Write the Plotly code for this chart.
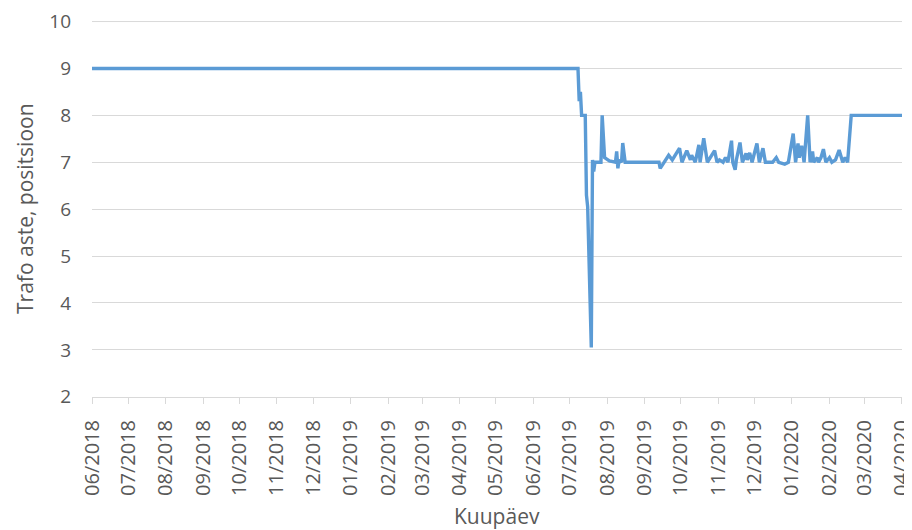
import plotly.graph_objects as go

dates = [
    "2018-06-01", "2019-07-08", "2019-07-09", "2019-07-10", "2019-07-11", "2019-07-14",
    "2019-07-15", "2019-07-16", "2019-07-19", "2019-07-20", "2019-07-21", "2019-07-22",
    "2019-07-27", "2019-07-28", "2019-07-30", "2019-08-03", "2019-08-08", "2019-08-09",
    "2019-08-10", "2019-08-11", "2019-08-13", "2019-08-14", "2019-08-16", "2019-09-13",
    "2019-09-14", "2019-09-17", "2019-09-21", "2019-09-24", "2019-09-30", "2019-10-02",
    "2019-10-06", "2019-10-09", "2019-10-10", "2019-10-13", "2019-10-16", "2019-10-17",
    "2019-10-20", "2019-10-23", "2019-10-29", "2019-10-31", "2019-11-02", "2019-11-05",
    "2019-11-07", "2019-11-09", "2019-11-12", "2019-11-13", "2019-11-15", "2019-11-16",
    "2019-11-19", "2019-11-21", "2019-11-24", "2019-11-25", "2019-11-27", "2019-11-29",
    "2019-12-03", "2019-12-05", "2019-12-08", "2019-12-10", "2019-12-16", "2019-12-19",
    "2019-12-21", "2019-12-26", "2019-12-29", "2020-01-02", "2020-01-04", "2020-01-06",
    "2020-01-07", "2020-01-09", "2020-01-11", "2020-01-14", "2020-01-16", "2020-01-18",
    "2020-01-19", "2020-01-22", "2020-01-23", "2020-01-25", "2020-01-27", "2020-01-29",
    "2020-02-01", "2020-02-03", "2020-02-06", "2020-02-09", "2020-02-12", "2020-02-14",
    "2020-02-16", "2020-02-19", "2020-04-01",
]
positions = [
    9, 9, 8.3, 8.5, 8.0, 8.0,
    6.3, 6.05, 3.05, 7.05, 6.8, 7.0,
    7.0, 8.0, 7.1, 7.03, 7.0, 7.23,
    6.87, 7.05, 7.0, 7.41, 7.0, 7.0,
    6.87, 7.0, 7.15, 7.05, 7.3, 7.0,
    7.25, 7.05, 7.15, 7.0, 7.37, 7.0,
    7.51, 7.0, 7.25, 7.0, 7.05, 7.0,
    7.1, 7.0, 7.46, 7.0, 6.84, 7.05,
    7.42, 7.0, 7.19, 7.05, 7.2, 7.0,
    7.4, 7.0, 7.3, 7.0, 7.0, 7.1,
    7.0, 6.96, 7.0, 7.61, 7.0, 7.4,
    7.1, 7.35, 7.0, 8.0, 7.0, 7.23,
    7.0, 7.1, 7.0, 7.1, 7.28, 7.0,
    7.1, 7.0, 7.05, 7.26, 7.0, 7.1,
    7.0, 8.0, 8.0,
]

x_range = ["2018-06-01", "2020-04-01 00:10"]
y_min, y_max = 2, 10

font_family = "Open Sans, Lato, sans-serif"
grey = "#595959"
grid = "#D9D9D9"

fig = go.Figure()
fig.add_trace(go.Scatter(
    x=dates, y=positions, mode="lines",
    line=dict(color="#5B9BD5", width=3.4),
    showlegend=False,
))

# the page body adds an 8px margin; margins are offset to compensate
fig.update_layout(
    width=912, height=530,
    margin=dict(l=84, r=18, t=13, b=141, autoexpand=False),
    paper_bgcolor="white", plot_bgcolor="white",
    font=dict(family=font_family, color=grey),
    shapes=[
        dict(type="line", xref="paper", yref="y", x0=0, x1=1,
             y0=y_max, y1=y_max, line=dict(color=grid, width=1), layer="below"),
    ],
    annotations=[
        dict(text="Trafo aste, positsioon", xref="paper", yref="paper",
             x=0, y=0.5, xanchor="center", yanchor="middle",
             xshift=-67, textangle=-90, showarrow=False,
             font=dict(size=21, color=grey)),
        dict(text="Kuupäev", xref="paper", yref="paper",
             x=0.5, y=0, xanchor="center", yanchor="top",
             yshift=-103, showarrow=False,
             font=dict(size=21, color=grey)),
    ],
)
fig.update_xaxes(
    type="date", range=x_range, automargin=False,
    tickformat="%m/%Y", dtick="M1", tick0="2018-06-01",
    tickangle=-90, tickfont=dict(size=20, color=grey),
    ticks="outside", ticklen=6, tickcolor=grid, tickwidth=1,
    ticklabelstandoff=8,
    showline=True, linecolor=grid, linewidth=1,
    showgrid=False, zeroline=False,
)
fig.update_yaxes(
    range=[y_min - 0.005, y_max + 0.012], dtick=1, tick0=0, automargin=False,
    tickfont=dict(size=19, color=grey),
    showgrid=True, gridcolor=grid, gridwidth=1,
    showline=False, zeroline=False, ticks="",
    ticklabelstandoff=20,
)

fig.write_html("out.html")
